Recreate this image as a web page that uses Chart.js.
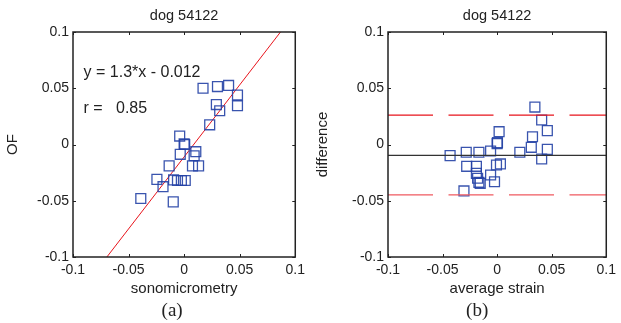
<!DOCTYPE html>
<html>
<head>
<meta charset="utf-8">
<script src="https://cdn.jsdelivr.net/npm/chart.js@4"></script>
<style>
body{margin:0;background:#fff;width:621px;height:323px;position:relative;overflow:hidden}
canvas{position:absolute;top:0}
#chartA{left:0}
#chartB{left:310px}
</style>
</head>
<body>
<canvas id="chartA" width="310" height="323"></canvas>
<canvas id="chartB" width="311" height="323"></canvas>
<script>

// data

const chartTitle = 'dog 54122'
const tickValues = [-0.1,-0.05,0,0.05,0.1]
const tickLabels = ['-0.1','-0.05','0','0.05','0.1']

// (a) sonomicrometry vs OF
const sonoX = [0.017,0.030,0.040,0.048,0.048,0.029,0.032,0.023,-0.004,0,0.0005,-0.0035,0.0105,0.009,-0.0135,0.0075,0.013,-0.0245,-0.019,-0.0095,-0.006,-0.0025,0.001,-0.039,-0.0098]
const ofY = [0.050,0.0515,0.0525,0.044,0.0345,0.0355,0.030,0.0175,0.0075,0.0005,0.0,-0.0087,-0.0064,-0.010,-0.019,-0.019,-0.019,-0.031,-0.0375,-0.0315,-0.032,-0.032,-0.032,-0.048,-0.051]
const fitSlope = 1.28
const fitIntercept = -0.011
const fitText = 'y = 1.3*x - 0.012'
const rText = 'r =   0.85'

// (b) Bland-Altman
const avgX = [0.0346,0.0408,0.046,0.0324,0.0018,0.0003,0.0,0.0313,0.046,0.0408,0.0208,-0.006,-0.0167,-0.0283,-0.0431,-0.0279,-0.019,-0.0006,0.003,-0.019,-0.006,-0.0179,-0.0167,-0.0024,-0.0155,-0.0304]
const diffY = [0.0333,0.0218,0.0123,0.0069,0.0114,0.0016,0.0008,-0.0025,-0.0043,-0.0129,-0.0069,-0.0058,-0.0069,-0.0069,-0.0099,-0.0194,-0.0194,-0.0182,-0.0173,-0.0256,-0.0271,-0.030,-0.0336,-0.0331,-0.0345,-0.0413]
const meanDiff = -0.0096
const upperLimit = 0.0262
const lowerLimit = -0.0447

const sansFont = '"Liberation Sans", Arial, sans-serif'
const textColor = '#222'
const squareColor = 'rgba(35,65,165,0.9)'

// box with inward ticks on all four sides, like matlab
const boxPlugin = {
id:'box',
afterDraw(chart,args,opts){
const ctx = chart.ctx
const a = chart.chartArea
const xs = chart.scales.x
const ys = chart.scales.y
ctx.save()
ctx.strokeStyle = '#222'
ctx.lineWidth = 1
tickValues.forEach(v=>{
const px = Math.round(xs.getPixelForValue(v))+0.5
const py = Math.round(ys.getPixelForValue(v))+0.5
ctx.beginPath()
ctx.moveTo(px,a.bottom);ctx.lineTo(px,a.bottom-3)
ctx.moveTo(px,a.top);ctx.lineTo(px,a.top+3)
ctx.moveTo(a.left,py);ctx.lineTo(a.left+3,py)
ctx.moveTo(a.right,py);ctx.lineTo(a.right-3,py)
ctx.stroke()
})
ctx.lineWidth = 1.5
ctx.strokeRect(a.left,a.top,a.right-a.left,a.bottom-a.top)
// notes inside the plot
ctx.fillStyle = textColor
ctx.font = '16px ' + sansFont
ctx.textBaseline = 'middle'
ctx.textAlign = 'left'
;(opts.notes||[]).forEach(n=>{
ctx.fillText(n.text,xs.getPixelForValue(n.x),ys.getPixelForValue(n.y))
})
// panel letter
ctx.font = '19px "Liberation Serif", "Times New Roman", serif'
ctx.textAlign = 'center'
ctx.fillText(opts.letter,(a.left+a.right)/2+opts.letterShift,311)
ctx.restore()
}
}

function makeOptions(xTitle,yTitle,yWidth,rightPad,letter,letterShift,notes){
return {
responsive:false,
animation:false,
layout:{padding:{left:0,right:rightPad,top:0,bottom:0}},
plugins:{
legend:{display:false},
tooltip:{enabled:false},
title:{
display:true,
text:chartTitle,
fullSize:false,
color:textColor,
font:{family:sansFont,size:14.5,weight:'normal',lineHeight:1.2},
padding:{top:7.2,bottom:7.4}
},
box:{letter:letter,letterShift:letterShift,notes:notes}
},
scales:{
x:{
type:'linear',
min:-0.1,max:0.1,
afterBuildTicks:s=>{s.ticks = tickValues.map(v=>({value:v}))},
afterFit:s=>{s.height = 66},
grid:{display:false,drawTicks:false},
border:{display:false},
ticks:{
padding:5,
color:textColor,
font:{family:sansFont,size:14},
maxRotation:0,
callback:(v,i)=>tickLabels[i]
},
title:{
display:true,
text:xTitle,
color:textColor,
font:{family:sansFont,size:15,lineHeight:1.2},
padding:{top:0,bottom:25}
}
},
y:{
type:'linear',
min:-0.1,max:0.1,
afterBuildTicks:s=>{s.ticks = tickValues.map(v=>({value:v}))},
afterFit:s=>{s.width = yWidth},
grid:{display:false,drawTicks:false},
border:{display:false},
ticks:{
padding:4,
color:textColor,
font:{family:sansFont,size:14},
callback:(v,i)=>tickLabels[i]
},
title:{
display:true,
text:yTitle,
color:textColor,
font:{family:sansFont,size:15,lineHeight:1.2},
padding:{top:4.3,bottom:0}
}
}
}
}
}

// PANEL A

const fitEnds = [-0.1,0.1].map(y=>(y-fitIntercept)/fitSlope)

const chartA = new Chart(
document.getElementById('chartA'),
{
type:'scatter',
data:{
datasets:[
{
label:'points',
data:sonoX.map((x,i)=>({x:x,y:ofY[i]})),
pointStyle:'rect',
pointRadius:7,
borderColor:squareColor,
backgroundColor:'rgba(0,0,0,0)',
borderWidth:1.3
},
{
type:'line',
label:'fit',
data:fitEnds.map(x=>({x:x,y:fitSlope*x+fitIntercept})),
borderColor:'#e8141c',
borderWidth:1,
pointRadius:0,
fill:false
}
]
},
options:makeOptions('sonomicrometry','OF',73,13,'(a)',-12,[
{text:fitText,x:-0.0905,y:0.064},
{text:rText,x:-0.0905,y:0.032}
]),
plugins:[boxPlugin]
}
)

// PANEL B

function flatLine(v){
return [{x:-0.1,y:v},{x:0.1,y:v}]
}

const chartB = new Chart(
document.getElementById('chartB'),
{
type:'scatter',
data:{
datasets:[
{
type:'line',
label:'mean',
data:flatLine(meanDiff),
borderColor:'#333',
borderWidth:1.2,
pointRadius:0
},
{
type:'line',
label:'upper',
data:flatLine(upperLimit),
borderColor:'#e8141c',
borderWidth:1.3,
borderDash:[45,15.5],
pointRadius:0
},
{
type:'line',
label:'lower',
data:flatLine(lowerLimit),
borderColor:'#ef5a60',
borderWidth:1.3,
borderDash:[45,15.5],
pointRadius:0
},
{
label:'points',
data:avgX.map((x,i)=>({x:x,y:diffY[i]})),
pointStyle:'rect',
pointRadius:7,
borderColor:squareColor,
backgroundColor:'rgba(0,0,0,0)',
borderWidth:1.3
}
]
},
options:makeOptions('average strain','difference',78,9,'(b)',-20,[]),
plugins:[boxPlugin]
}
)

</script>
</body>
</html>
